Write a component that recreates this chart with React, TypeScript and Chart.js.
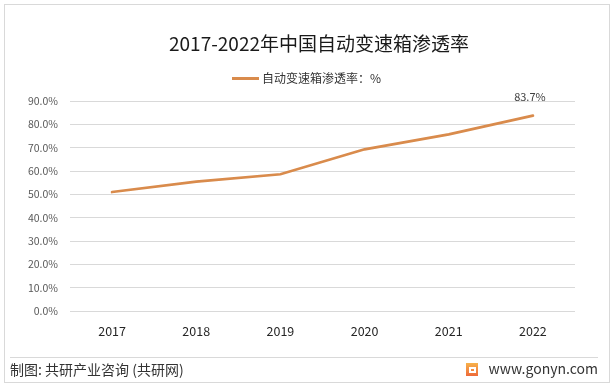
import React, { useEffect, useRef } from "react";
import { Chart, registerables } from "chart.js";

Chart.register(...registerables);

const years: string[] = ["2017", "2018", "2019", "2020", "2021", "2022"];
const penetration: number[] = [51.0, 55.4, 58.6, 69.3, 75.7, 83.7];
const yMin = 0;
const yMax = 90;
const yStep = 10;
const titleText = "2017-2022年中国自动变速箱渗透率";
const seriesName = "自动变速箱渗透率：%";
const footerLeft = "制图: 共研产业咨询 (共研网)";
const footerRight = "www.gonyn.com";

const W = 615;
const H = 388;
const LINE_COLOR = "#D98B4C";
const CJK = '"Noto Sans CJK SC", "Noto Sans", sans-serif';

const decorPlugin = {
  id: "decor",
  beforeDraw(chart: any) {
    const ctx = chart.ctx as CanvasRenderingContext2D;
    ctx.save();
    ctx.fillStyle = "#ffffff";
    ctx.fillRect(0, 0, W, H);
    // outer border
    ctx.strokeStyle = "#d9d9d9";
    ctx.lineWidth = 1;
    ctx.strokeRect(4.5, 4.5, 605, 378);
    // title
    ctx.fillStyle = "#1a1a1a";
    ctx.font = `19px ${CJK}`;
    ctx.textAlign = "center";
    ctx.textBaseline = "middle";
    ctx.fillText(titleText, 319, 44);
    // legend
    ctx.strokeStyle = LINE_COLOR;
    ctx.lineWidth = 3;
    ctx.beginPath();
    ctx.moveTo(232, 78.5);
    ctx.lineTo(259, 78.5);
    ctx.stroke();
    ctx.fillStyle = "#333333";
    ctx.font = `12px ${CJK}`;
    ctx.textAlign = "left";
    ctx.fillText(seriesName, 262, 78);
    // footer separator
    ctx.strokeStyle = "#d9d9d9";
    ctx.lineWidth = 1;
    ctx.beginPath();
    ctx.moveTo(10, 357.5);
    ctx.lineTo(598, 357.5);
    ctx.stroke();
    // footer texts
    ctx.fillStyle = "#333333";
    ctx.font = `14px ${CJK}`;
    ctx.textAlign = "left";
    ctx.fillText(footerLeft, 10, 370);
    ctx.textAlign = "right";
    ctx.fillText(footerRight, 598, 369);
    // logo icon
    const g = ctx.createLinearGradient(466, 363, 466, 376);
    g.addColorStop(0, "#F7B24A");
    g.addColorStop(1, "#EE6A3A");
    ctx.fillStyle = g;
    ctx.fillRect(466, 363, 12, 13);
    ctx.fillStyle = "#ffffff";
    ctx.fillRect(469, 367, 7, 2);
    ctx.fillRect(469, 367, 2, 6);
    ctx.fillRect(469, 371, 7, 2);
    ctx.fillRect(474, 369, 2, 3);
    ctx.restore();
  },
  afterDatasetsDraw(chart: any) {
    const ctx = chart.ctx as CanvasRenderingContext2D;
    const meta = chart.getDatasetMeta(0);
    const i = meta.data.length - 1;
    const pt = meta.data[i];
    ctx.save();
    ctx.fillStyle = "#404040";
    ctx.font = `11px ${CJK}`;
    ctx.textAlign = "center";
    ctx.textBaseline = "middle";
    ctx.fillText(penetration[i].toFixed(1) + "%", pt.x - 3, pt.y - 19);
    ctx.restore();
  },
};

export default function App() {
  const ref = useRef<HTMLCanvasElement | null>(null);

  useEffect(() => {
    document.body.style.margin = "0";
    const canvas = ref.current;
    if (!canvas) return;
    const chart = new Chart(canvas, {
      type: "line",
      data: {
        labels: years,
        datasets: [
          {
            label: seriesName,
            data: penetration,
            borderColor: LINE_COLOR,
            backgroundColor: LINE_COLOR,
            borderWidth: 2.75,
            pointRadius: 0,
            tension: 0,
            borderCapStyle: "round",
          },
        ],
      },
      options: {
        animation: false,
        responsive: false,
        devicePixelRatio: 1,
        layout: { padding: { top: 101, right: 40, bottom: 0, left: 0 } },
        plugins: {
          legend: { display: false },
          title: { display: false },
          tooltip: { enabled: false },
        },
        scales: {
          x: {
            offset: true,
            grid: { display: false, drawTicks: false },
            border: { display: false },
            ticks: {
              color: "#262626",
              font: { family: CJK, size: 12.5 },
              padding: 13,
              maxRotation: 0,
            },
            afterFit: (s: any) => {
              s.height = 77;
            },
          },
          y: {
            min: yMin,
            max: yMax,
            grid: { color: "#d9d9d9", lineWidth: 1, drawTicks: false },
            border: { display: false },
            ticks: {
              stepSize: yStep,
              color: "#595959",
              font: { family: CJK, size: 10.5 },
              padding: 12,
              callback: (v: any) => Number(v).toFixed(1) + "%",
            },
            afterFit: (s: any) => {
              s.width = 70;
            },
          },
        },
      },
      plugins: [decorPlugin],
    });
    return () => chart.destroy();
  }, []);

  return (
    <div style={{ position: "fixed", left: 0, top: 0, width: W, height: H, background: "#fff" }}>
      <canvas ref={ref} width={W} height={H} style={{ display: "block", width: W, height: H }} />
    </div>
  );
}
